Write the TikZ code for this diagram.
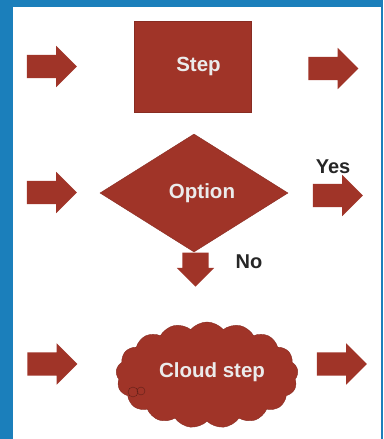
\documentclass[tikz,border=0pt]{standalone}
\usepackage{fontspec}
\setmainfont{Liberation Sans}
\usetikzlibrary{shapes.geometric,shapes.symbols,shapes.arrows}
\definecolor{boxred}{RGB}{160,52,40}
\definecolor{frameblue}{RGB}{27,127,187}

\begin{document}
\begin{tikzpicture}[x=1pt,y=-1pt,
  shapefill/.style={fill=boxred, draw=boxred!85!black, text=white!92!black, font=\fontsize{20.5}{24}\selectfont\bfseries, inner sep=0pt},
  fatarrow/.style={single arrow, fill=boxred, draw=none, minimum height=50pt, inner xsep=0pt, inner ysep=11.5pt, single arrow head extend=9pt},
  answer/.style={font=\fontsize{20}{24}\selectfont\bfseries, text=black!85}]
\fill[frameblue] (0,0) rectangle (383,439);
\fill[white] (13,7) rectangle (381,439);

% first row
\node[fatarrow] (in1) at (46,66.5) {};
\node[shapefill, rectangle, minimum width=117pt, minimum height=91pt] (step) at (192.5,66.5) {\hspace*{12pt}Step};
\node[fatarrow] (out1) at (327.5,68.5) {};

% second row
\node[fatarrow] (in2) at (46,192.5) {};
\node[shapefill, diamond, minimum width=188pt, minimum height=118pt] (option) at (194,193) {\hspace*{16pt}Option};
\node[fatarrow] (out2) at (332,195.5) {};
\node[answer] (yes) at (333,167) {Yes};
\node[fatarrow, shape border rotate=270, minimum height=34pt, inner xsep=13pt, inner ysep=0pt, single arrow head extend=5.5pt] (down) at (195.5,263) {};
\node[answer] (no) at (249,262) {No};

% third row
\node[fatarrow] (in3) at (46.5,364) {};
\node[shapefill, cloud, cloud puffs=17, cloud puff arc=100, cloud ignores aspect, minimum width=182pt, minimum height=106pt] (cloud) at (207,375) {\raisebox{10pt}{\hspace*{10pt}Cloud step}};
\node[fatarrow] (out3) at (336,364) {};
\draw[boxred!60!black, thin] (133,392) circle (5pt) (141,391) circle (4pt);

\end{tikzpicture}
\end{document}
